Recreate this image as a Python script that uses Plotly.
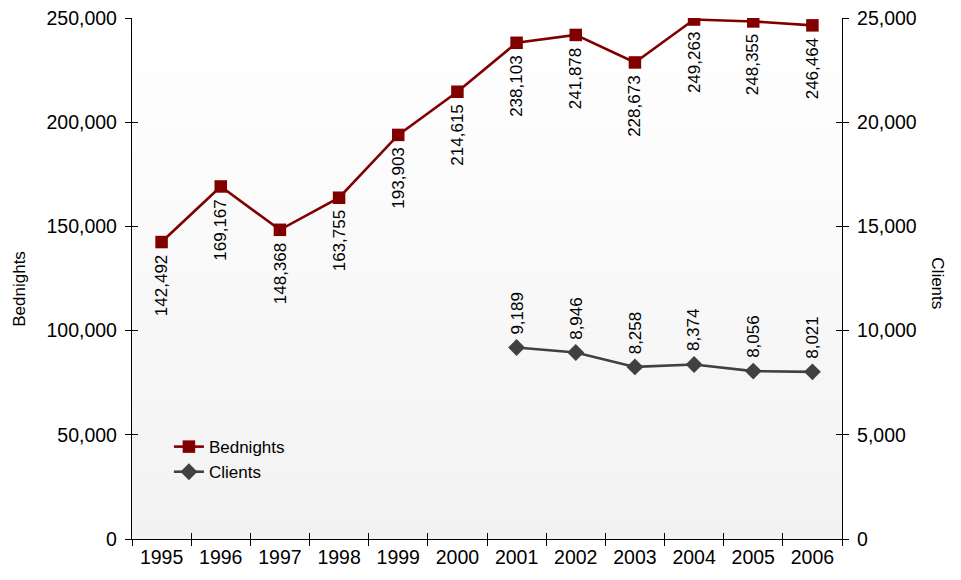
import plotly.graph_objects as go

years = ["1995", "1996", "1997", "1998", "1999", "2000", "2001", "2002", "2003", "2004", "2005", "2006"]
bednights = [142492, 169167, 148368, 163755, 193903, 214615, 238103, 241878, 228673, 249263, 248355, 246464]
client_years = ["2001", "2002", "2003", "2004", "2005", "2006"]
clients = [9189, 8946, 8258, 8374, 8056, 8021]
left_ticks = [0, 50000, 100000, 150000, 200000, 250000]
right_ticks = [0, 5000, 10000, 15000, 20000, 25000]

FONT = "Liberation Sans, Arial, sans-serif"
RED = "#800000"
GRAY = "#404040"

fig = go.Figure()
fig.add_trace(go.Scatter(x=years, y=bednights, name="Bednights", mode="lines+markers",
                         line=dict(color=RED, width=2.6),
                         marker=dict(symbol="square", size=12.5, color=RED),
                         xaxis="x", yaxis="y"))
fig.add_trace(go.Scatter(x=client_years, y=clients, name="Clients", mode="lines+markers",
                         line=dict(color=GRAY, width=2.6),
                         marker=dict(symbol="diamond", size=13, color=GRAY),
                         xaxis="x", yaxis="y2"))
# dummy traces so that overlay tick axes are drawn
fig.add_trace(go.Scatter(x=[None], y=[None], xaxis="x2", yaxis="y3", showlegend=False, hoverinfo="skip"))
fig.add_trace(go.Scatter(x=[None], y=[None], xaxis="x2", yaxis="y4", showlegend=False, hoverinfo="skip"))

annotations = []
for yr, v in zip(years, bednights):
    annotations.append(dict(x=years.index(yr), y=v, xref="x", yref="y", text=f"{v:,}", textangle=-90,
                            showarrow=False, yanchor="top", xanchor="center", yshift=-11,
                            font=dict(family=FONT, size=17, color="black")))
for yr, v in zip(client_years, clients):
    annotations.append(dict(x=years.index(yr), y=v, xref="x", yref="y2", text=f"{v:,}", textangle=-90,
                            showarrow=False, yanchor="bottom", xanchor="center", yshift=11,
                            font=dict(family=FONT, size=17, color="black")))
annotations.append(dict(x=-0.158, y=0.48, xref="paper", yref="paper", text="Bednights",
                        textangle=-90, showarrow=False, xanchor="center", yanchor="middle",
                        font=dict(family=FONT, size=17, color="black")))
annotations.append(dict(x=1.135, y=0.491, xref="paper", yref="paper", text="Clients",
                        textangle=90, showarrow=False, xanchor="center", yanchor="middle",
                        font=dict(family=FONT, size=17, color="black")))

# background gradient strips
shapes = []
N = 60
for i in range(N):
    c = round(255 - 13 * (1 - (i + 0.5) / N))
    shapes.append(dict(type="rect", xref="paper", yref="paper", x0=0, x1=1,
                       y0=i / N, y1=(i + 1) / N, line=dict(width=0),
                       fillcolor=f"rgb({c},{c},{c})", layer="below"))

tickfont = dict(family=FONT, size=19.5, color="black")
fig.update_layout(
    width=961, height=580,
    margin=dict(l=132, r=119, t=18, b=41, autoexpand=False),
    paper_bgcolor="white", plot_bgcolor="rgba(0,0,0,0)",
    font=dict(family=FONT, color="black"),
    showlegend=True,
    legend=dict(x=0.052, y=0.211, xanchor="left", yanchor="top",
                bgcolor="rgba(0,0,0,0)", font=dict(family=FONT, size=17, color="black"),
                itemwidth=30, tracegroupgap=0),
    xaxis=dict(type="category", categoryorder="array", categoryarray=years,
               range=[-0.5, 11.5], showgrid=False, zeroline=False,
               showline=True, linecolor="black", linewidth=1.3,
               ticks="outside", ticklen=6, tickcolor="black", tickwidth=1,
               tickson="boundaries", tickfont=tickfont, anchor="y", fixedrange=True),
    xaxis2=dict(overlaying="x", range=[-0.5, 11.5], tickvals=[i - 0.5 for i in range(13)],
                showticklabels=False, ticks="inside", ticklen=6, tickcolor="black",
                showgrid=False, zeroline=False, showline=False, anchor="y3", side="bottom"),
    yaxis=dict(range=[0, 250000], tickvals=left_ticks, tickformat=",", showgrid=False,
               zeroline=False, showline=True, linecolor="black", linewidth=1.3,
               ticks="outside", ticklen=6, tickcolor="black", tickfont=tickfont,
               ticklabelstandoff=4, anchor="x"),
    yaxis2=dict(range=[0, 25000], tickvals=right_ticks, tickformat=",", overlaying="y",
                side="right", showgrid=False, zeroline=False, showline=True,
                linecolor="black", linewidth=1.3, ticks="outside", ticklen=6,
                tickcolor="black", tickfont=tickfont, ticklabelstandoff=4, anchor="x"),
    yaxis3=dict(range=[0, 250000], tickvals=left_ticks, overlaying="y", side="left",
                showticklabels=False, ticks="inside", ticklen=6, tickcolor="black",
                showgrid=False, zeroline=False, showline=False, anchor="x2"),
    yaxis4=dict(range=[0, 25000], tickvals=right_ticks, overlaying="y", side="right",
                showticklabels=False, ticks="inside", ticklen=6, tickcolor="black",
                showgrid=False, zeroline=False, showline=False, anchor="x2"),
    annotations=annotations,
    shapes=shapes,
)

fig.write_html("out.html", config={"displayModeBar": False},
               post_script="document.body.style.margin='0';")
